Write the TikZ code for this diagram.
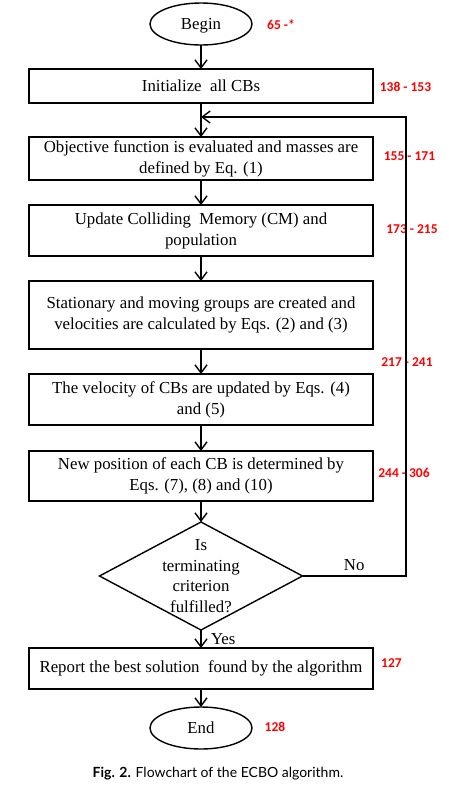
\documentclass[tikz,border=0pt]{standalone}
\usepackage{fontspec}
\setmainfont{Liberation Serif}
\newfontfamily\numfont{Carlito}
\newfontfamily\capfont{Lato}
\usetikzlibrary{positioning,shapes.geometric,arrows.meta}

\begin{document}
\begin{tikzpicture}[
	x=1pt, y=-1pt,
	rec/.style  = {draw, rectangle, line width=1.4pt, outer sep=0pt, minimum width=344pt, inner sep=2pt, align=center, font=\fontsize{16.8}{21}\selectfont},
	term/.style = {draw, ellipse, line width=1.4pt, outer sep=0pt, minimum width=102pt, minimum height=42pt, inner sep=0pt, text depth=0pt, font=\fontsize{16.8}{21}\selectfont},
	cond/.style = {draw, diamond, line width=1.4pt, outer sep=0pt, minimum width=203pt, minimum height=108pt, inner sep=0pt},
	num/.style  = {text=red, font=\numfont\bfseries\fontsize{13.5}{16}\selectfont},
	>={Straight Barb[length=8pt,width=12pt]}]
	
	\useasboundingbox (0,0) rectangle (449,785);
	
	% main column, every block hangs below the one before
	\node[term] (begin) at (201,24) {Begin};
	\node[rec, minimum height=34pt, below=24pt of begin] (init) {Initialize\ \ all CBs};
	\node[rec, minimum height=43pt, below=34pt of init] (obj) {Objective function is evaluated and masses are\\defined by Eq. (1)};
	\node[rec, minimum height=51pt, below=25pt of obj] (cm) {Update Colliding\ \ Memory (CM) and\\population};
	\node[rec, minimum height=68pt, below=25pt of cm] (groups) {Stationary and moving groups are created and\\velocities are calculated by Eqs. (2) and (3)};
	\node[rec, minimum height=51pt, below=25pt of groups] (vel) {The velocity of CBs are updated by Eqs. (4)\\and (5)};
	\node[rec, minimum height=50pt, below=26pt of vel] (pos) {New position of each CB is determined by\\Eqs. (7), (8) and (10)};
	\node[cond, below=21pt of pos] (test) {};
	\node[align=center, font=\fontsize{16.8}{20.7}\selectfont] (testtxt) at (test.center) {Is\\terminating\\criterion\\fulfilled?};
	\node[rec, minimum height=41pt, below=18pt of test] (report) {Report the best solution\ \ found by the algorithm};
	\node[term, below=18pt of report] (end) {End};
	
	% line numbers in red
	\begin{scope}[every node/.style={num}]
	\node (n1) at (281,25) {65 -*};
	\node (n2) at (405.5,87) {138 - 153};
	\node (n3) at (409.5,156) {155 - 171};
	\node (n4) at (412,229) {173 - 215};
	\node (n5) at (407,362) {217 - 241};
	\node (n6) at (404,473) {244 - 306};
	\node (n7) at (391.5,663) {127};
	\node (n8) at (275,727) {128};
	\end{scope}
	
	% arrows down the column
	\foreach \a/\b in {begin/init, init/obj, obj/cm, cm/groups, groups/vel, vel/pos, pos/test, report/end}
	\draw[->, line width=1.4pt] (\a) -- (\b);
	
	\draw[->, line width=1.4pt] (test) -- node[right, xshift=6pt] (yes) {\fontsize{16.8}{21}\selectfont Yes} (report);
	
	% back loop
	\coordinate (back) at ([yshift=-14pt]init.south);
	\coordinate (rail) at (406,0);
	\draw[->, line width=1.4pt] (test.east) -- node[above, yshift=1pt] (no) {\fontsize{16.8}{21}\selectfont No} (test.east -| rail) |- (back);
	
	\node (caption) at (218,774) {\capfont\fontsize{14}{17}\selectfont\textbf{Fig. 2.} Flowchart of the ECBO algorithm.};
\end{tikzpicture}
\end{document}
